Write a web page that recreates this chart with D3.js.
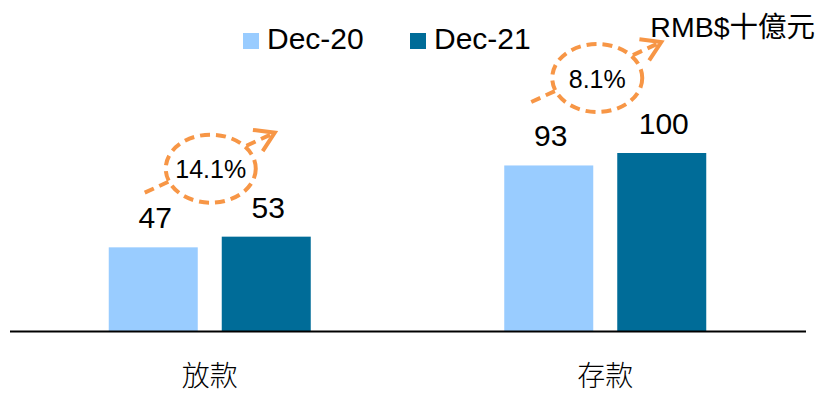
<!DOCTYPE html>
<html><head><meta charset="utf-8">
<script src="https://cdn.jsdelivr.net/npm/d3@7"></script>
<style>
html,body{margin:0;padding:0;background:#fff;}
text{font-family:"Liberation Sans",Arial,"Noto Sans CJK TC",sans-serif;fill:#000;}
</style></head>
<body>
<svg id="c" width="820" height="395"></svg>
<script>
const categories = ["放款", "存款"];
const seriesNames = ["Dec-20", "Dec-21"];
const dec20 = [47, 93];
const dec21 = [53, 100];
const growthLabels = ["14.1%", "8.1%"];
const unitLabel = "RMB$十億元";
const colors = ["#99CCFF", "#006C98"];
const orange = "#F79646";

const svg = d3.select("#c");
const baseY = 331;
const x = d3.scaleBand().domain(categories).range([12, 803]);
const xs = d3.scaleBand().domain(seriesNames).range([-101, 101]).paddingInner(24/113).paddingOuter(0);
const y = d3.scaleLinear().domain([0, 100]).range([baseY, 153]);
const series = [dec20, dec21];

// bars
categories.forEach((c, i) => {
  const g = svg.append("g").attr("transform", `translate(${x(c) + x.bandwidth()/2},0)`);
  seriesNames.forEach((s, j) => {
    const v = series[j][i];
    g.append("rect").attr("x", xs(s)).attr("width", xs.bandwidth())
      .attr("y", y(v)).attr("height", y(0) - y(v)).attr("fill", colors[j]);
    g.append("text").attr("x", xs(s) + xs.bandwidth()/2 + 2).attr("y", y(v) - 19)
      .attr("text-anchor", "middle").attr("font-size", 30).text(v);
  });
});

// baseline axis
const axis = d3.axisBottom(x).tickSize(0).tickPadding(0);
const ax = svg.append("g").attr("transform", `translate(0,${baseY})`).call(axis);
ax.select(".domain").remove();
ax.selectAll("text").attr("font-size", 28).attr("dy", null).attr("y", 55)
  .style("font-family", "'Noto Sans CJK TC',sans-serif").style("font-weight", 300);
svg.append("line").attr("x1", 10).attr("x2", 806).attr("y1", baseY + 0.5).attr("y2", baseY + 0.5)
  .attr("stroke", "#000").attr("stroke-width", 2);

// legend
seriesNames.forEach((s, j) => {
  const lx = 243 + j * 167;
  svg.append("rect").attr("x", lx).attr("y", 33).attr("width", 16).attr("height", 16).attr("fill", colors[j]);
  svg.append("text").attr("x", lx + 24).attr("y", 49).attr("font-size", 30).text(s);
});

// unit label
svg.append("text").attr("x", 815).attr("y", 37).attr("text-anchor", "end").attr("font-size", 28.5).text(unitLabel);

// growth annotations
const ellOff = [[1, -68], [-8, -75]];
const textDy = [9, 10];
categories.forEach((c, i) => {
  const top = y(Math.max(dec20[i], dec21[i]));
  const cx = x(c) + x.bandwidth()/2 + ellOff[i][0];
  const cy = top + ellOff[i][1];
  const sx = cx - 66, sy = cy + 24, tx = cx + 64, ty = cy - 36;
  const g = svg.append("g");
  g.append("line").attr("x1", sx).attr("y1", sy).attr("x2", tx).attr("y2", ty)
    .attr("stroke", orange).attr("stroke-width", 4).attr("stroke-dasharray", "10,6");
  const ang = Math.atan2(sy - ty, sx - tx);
  const L = 22, a = 32 * Math.PI / 180;
  g.append("path")
    .attr("d", `M${tx + L*Math.cos(ang + a)},${ty + L*Math.sin(ang + a)}L${tx},${ty}L${tx + L*Math.cos(ang - a)},${ty + L*Math.sin(ang - a)}`)
    .attr("fill", "none").attr("stroke", orange).attr("stroke-width", 4);
  g.append("ellipse").attr("cx", cx).attr("cy", cy).attr("rx", 45).attr("ry", 34)
    .attr("fill", "#fff").attr("stroke", orange).attr("stroke-width", 4).attr("stroke-dasharray", "10,6");
  g.append("text").attr("x", cx).attr("y", cy + textDy[i]).attr("text-anchor", "middle")
    .attr("font-size", 25).text(growthLabels[i]);
});
</script>
</body></html>
